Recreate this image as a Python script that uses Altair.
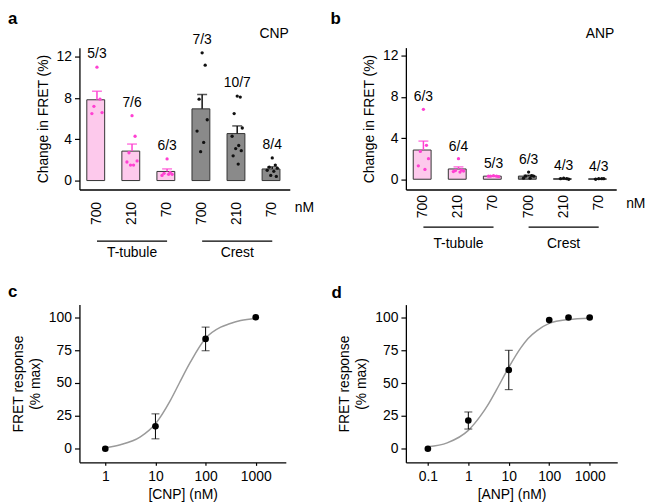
import altair as alt
import pandas as pd

FONT = "Liberation Sans"
PINK_FILL = "#fdc9ec"
PINK_DOT = "#ff40d2"
GRAY_FILL = "#8a8a8a"

# ---------------- data ----------------
keys = ["TT-700", "TT-210", "TT-70", "CR-700", "CR-210", "CR-70"]
groups = ["T-tubule", "Crest"]
group_start = ["TT-700", "CR-700"]
group_mid = ["TT-210", "CR-210"]
group_end = ["TT-70", "CR-70"]

# panel a (CNP), individual measurements per bar
cnp_tt_700 = [11.0, 7.9, 7.2, 6.6, 6.5]
cnp_tt_210 = [6.3, 4.3, 2.7, 1.9, 1.8, 1.5, 1.5]
cnp_tt_70 = [2.1, 0.8, 0.7, 0.6, 0.5, 0.6]
cnp_cr_700 = [12.4, 11.2, 7.9, 5.9, 4.8, 3.7, 2.8]
cnp_cr_210 = [8.2, 8.1, 6.5, 5.1, 4.3, 3.4, 3.1, 2.9, 2.4, 1.6]
cnp_cr_70 = [2.2, 1.5, 1.3, 1.2, 1.0, 0.9, 0.5, 0.4]
cnp_labels = ["5/3", "7/6", "6/3", "7/3", "10/7", "8/4"]

# panel b (ANP)
anp_tt_700 = [6.8, 3.3, 2.7, 2.0, 1.3, 0.95]
anp_tt_210 = [2.0, 0.9, 0.85, 0.8, 0.75, 0.7]
anp_tt_70 = [0.35, 0.3, 0.3, 0.25, 0.3]
anp_cr_700 = [0.7, 0.35, 0.3, 0.3, 0.1, 0.1]
anp_cr_210 = [0.1, 0.05, 0.05, 0.0]
anp_cr_70 = [0.05, 0.05, 0.0, 0.05]
anp_labels = ["6/3", "6/4", "5/3", "6/3", "4/3", "4/3"]

# panel c (CNP dose response)
cnp_conc = [1, 10, 100, 1000]
cnp_resp = [0, 17, 83.5, 100]
cnp_err = [0, 9.5, 9, 0]
cnp_curve_conc = [1, 2, 5, 10, 20, 30, 50, 100, 200, 300, 500, 1000]
cnp_curve_resp = [0.8, 3, 9, 19, 37, 50, 66, 84, 92.5, 95, 97.5, 99]

# panel d (ANP dose response)
anp_conc = [0.1, 1, 10, 100, 300, 1000]
anp_resp = [0, 21.5, 60, 98, 100, 100]
anp_err = [0, 6.5, 15, 0, 0, 0]
anp_curve_conc = [0.1, 0.3, 1, 2, 3, 5, 10, 20, 30, 50, 100, 300, 1000]
anp_curve_resp = [1.5, 4.5, 14, 25, 33, 45, 62, 77, 84, 90, 95.5, 98.5, 99.5]

# horizontal spread pattern of the dots inside a bar (style)
JITTER = [0, 0.3, -0.3, 0.5, -0.5, 0.15, -0.15, 0.4, -0.4, 0.1]


def dots_df(series, labels):
    rows = []
    for k, vals, lab in zip(keys, series, labels):
        for i, v in enumerate(vals):
            rows.append({"key": k, "value": v, "label": lab,
                         "site": "T-tubule" if k.startswith("TT") else "Crest",
                         "off": JITTER[i % len(JITTER)]})
    return pd.DataFrame(rows)


groups_df = pd.DataFrame({"group": groups, "start": group_start,
                          "mid": group_mid, "end": group_end})

FILL_EXPR = f"datum.site == 'T-tubule' ? '{PINK_FILL}' : '{GRAY_FILL}'"
DOT_EXPR = f"datum.site == 'T-tubule' ? '{PINK_DOT}' : '#111111'"


def text_layer(txt, x, y, size=14, align="left", weight="normal", baseline="alphabetic"):
    return alt.Chart(pd.DataFrame({"t": [txt]})).mark_text(
        font=FONT, fontSize=size, fontWeight=weight, align=align,
        baseline=baseline, color="black"
    ).encode(text="t:N", x=alt.value(x), y=alt.value(y))


def bar_panel(df, letter, peptide, W, H, ydom, lab_pad, line_y, glab_y,
              nm_x, nm_y, letter_x, pep_x, lab_dy):
    xscale = alt.Scale(domain=keys, paddingInner=0.42, paddingOuter=0.21)
    xaxis = alt.Axis(title=None, labelAngle=-90, labelExpr="substring(datum.value, 3)",
                     ticks=False, labelPadding=lab_pad, domainColor="black",
                     domainWidth=1.3)
    yscale = alt.Scale(domain=ydom, nice=False, zero=False)
    yaxis = alt.Axis(values=[0, 4, 8, 12], title="Change in FRET (%)", tickSize=5,
                     labelPadding=3, titlePadding=6, domainWidth=1.3, tickWidth=1.2)

    def X(field):
        return alt.X(field, type="nominal", scale=xscale, axis=xaxis)

    def Y(field):
        return alt.Y(field, type="quantitative", scale=yscale, axis=yaxis)

    base = alt.Chart(df)
    bars = base.transform_aggregate(
        mean="mean(value)", groupby=["key", "site"]
    ).transform_calculate(fillc=FILL_EXPR).mark_bar(
        stroke="#333333", strokeWidth=1
    ).encode(x=X("key"), y=Y("mean"), y2=alt.datum(0),
             fill=alt.Fill("fillc:N", scale=None))

    stats = base.transform_aggregate(
        mean="mean(value)", se="stderr(value)", groupby=["key", "site"]
    ).transform_calculate(top="datum.mean + datum.se", dotc=DOT_EXPR)
    err = stats.mark_rule(strokeWidth=1.5).encode(
        x=X("key"), y=Y("mean"), y2="top:Q", color=alt.Color("dotc:N", scale=None))
    cap = stats.mark_tick(orient="horizontal", size=10, thickness=1.5).encode(
        x=X("key"), y=Y("top"), color=alt.Color("dotc:N", scale=None))

    dots = base.transform_calculate(dotc=DOT_EXPR).mark_circle(size=11, opacity=1).encode(
        x=X("key"), y=Y("value"),
        xOffset=alt.XOffset("off:Q", scale=alt.Scale(domain=[-1, 1], nice=False, zero=False)),
        color=alt.Color("dotc:N", scale=None))

    labels = base.transform_aggregate(
        maxv="max(value)", groupby=["key", "label"]
    ).mark_text(font=FONT, fontSize=14, dy=-lab_dy, baseline="middle", color="black").encode(
        x=X("key"), y=Y("maxv"), text="label:N")

    gline = alt.Chart(groups_df).mark_rule(color="black", strokeWidth=1.3).encode(
        x=alt.X("start", type="nominal", scale=xscale, axis=xaxis, bandPosition=0.5),
        x2="end:N", y=alt.value(line_y))
    gtext = alt.Chart(groups_df).mark_text(font=FONT, fontSize=14, color="black",
                                          baseline="alphabetic").encode(
        x=X("mid"), y=alt.value(glab_y), text="group:N")

    layers = [bars, err, cap, dots, labels, gline, gtext,
              text_layer(letter, letter_x, -24, size=17, weight="bold"),
              text_layer(peptide, pep_x, -10, align="right"),
              text_layer("nM", nm_x, nm_y)]
    return alt.layer(*layers).properties(width=W, height=H)


def dose_panel(conc, resp, errs, cconc, cresp, xdom, xvals, ydom, xtitle, letter,
               W, H, letter_x, letter_y):
    pts = pd.DataFrame({"c": conc, "r": resp, "e": errs})
    curve = pd.DataFrame({"c": cconc, "r": cresp})
    xscale = alt.Scale(type="log", domain=xdom, nice=False)
    yscale = alt.Scale(domain=ydom, nice=False, zero=False)
    xaxis = alt.Axis(values=xvals, format="~g", title=xtitle, tickSize=3,
                     labelPadding=4, titlePadding=4, domainWidth=1.3, tickWidth=1.2,
                     labelFlush=False)
    yaxis = alt.Axis(values=[0, 25, 50, 75, 100], title=["FRET response", "(% max)"],
                     tickSize=5, labelPadding=3, titlePadding=6, domainWidth=1.3,
                     tickWidth=1.2, titleLineHeight=17)

    def X(f):
        return alt.X(f, type="quantitative", scale=xscale, axis=xaxis)

    def Y(f):
        return alt.Y(f, type="quantitative", scale=yscale, axis=yaxis)

    line = alt.Chart(curve).mark_line(color="#9a9a9a", strokeWidth=1.5,
                                      interpolate="monotone").encode(x=X("c"), y=Y("r"))
    eb = alt.Chart(pts).transform_filter("datum.e > 0").transform_calculate(
        lo="datum.r - datum.e", hi="datum.r + datum.e")
    rule = eb.mark_rule(color="black", strokeWidth=1).encode(x=X("c"), y=Y("lo"), y2="hi:Q")
    cap_lo = eb.mark_tick(orient="horizontal", size=8, thickness=1, color="black").encode(
        x=X("c"), y=Y("lo"))
    cap_hi = eb.mark_tick(orient="horizontal", size=8, thickness=1, color="black").encode(
        x=X("c"), y=Y("hi"))
    dots = alt.Chart(pts).mark_circle(size=45, color="black", opacity=1).encode(
        x=X("c"), y=Y("r"))
    return alt.layer(line, rule, cap_lo, cap_hi, dots,
                     text_layer(letter, letter_x, letter_y, size=17, weight="bold")
                     ).properties(width=W, height=H)


pa = bar_panel(dots_df([cnp_tt_700, cnp_tt_210, cnp_tt_70, cnp_cr_700, cnp_cr_210, cnp_cr_70],
                       cnp_labels),
               "a", "CNP", 212, 143, [-0.87, 12.9], 12, 195, 211.5, 217, 165.5, -72, 211, 13)
pb = bar_panel(dots_df([anp_tt_700, anp_tt_210, anp_tt_70, anp_cr_700, anp_cr_210, anp_cr_70],
                       anp_labels),
               "b", "ANP", 212, 143, [-1.0, 12.8], 5, 181, 201.5, 222, 161.5, -76, 210, 12)
pc = dose_panel(cnp_conc, cnp_resp, cnp_err, cnp_curve_conc, cnp_curve_resp,
                [0.305, 3980], [1, 10, 100, 1000], [-10.4, 109.6], "[CNP] (nM)", "c",
                208, 159, -72, -8)
pd_ = dose_panel(anp_conc, anp_resp, anp_err, anp_curve_conc, anp_curve_resp,
                 [0.0286, 4800], [0.1, 1, 10, 100, 1000], [-10.4, 109.8], "[ANP] (nM)", "d",
                 213, 159, -75, -7)

chart = alt.concat(pa, pb, pc, pd_, columns=2, bounds="flush",
                   spacing={"row": 116, "column": 117}).properties(
    padding=0, background="white"
).configure_view(stroke=None).configure_axis(
    domainColor="black", tickColor="black", labelColor="black", titleColor="black",
    labelFont=FONT, titleFont=FONT, labelFontSize=14, titleFontSize=14,
    titleFontWeight="normal", grid=False
)

chart.save("out.html", embed_options={"renderer": "svg", "actions": False})
